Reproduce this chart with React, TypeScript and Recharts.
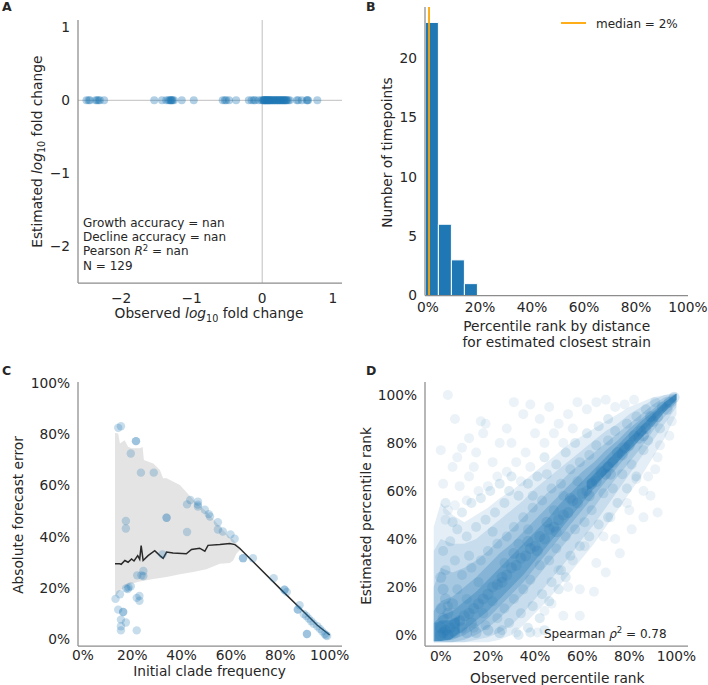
import React from 'react';
import {
  ScatterChart,
  Scatter,
  ComposedChart,
  Area,
  Line,
  XAxis,
  YAxis,
  ReferenceLine,
  ReferenceArea,
} from 'recharts';

const W = 708;
const H = 685;
const FONT = '"DejaVu Sans", sans-serif';
const BLUE = '#1f77b4';
const TEXT = '#262626';
const TICK = { fill: TEXT, fontSize: 13.75, fontFamily: FONT };
const AXIS_LINE = { stroke: '#8c8c8c', strokeWidth: 1.25 };
const YW = 60;
const XH = 40;

// ---------- Panel A ----------
const aObserved = [
  -2.49, -2.46, -2.44, -2.36, -2.34, -2.32, -2.3, -2.24,
  -1.53, -1.42, -1.36, -1.33, -1.31, -1.3, -1.29, -1.28, -1.27, -1.25, -1.14, -0.97,
  -0.56, -0.53, -0.51, -0.47, -0.37,
  -0.19, -0.15, -0.12, -0.1, -0.05, -0.01, 0.01, 0.02, 0.03, 0.04, 0.05, 0.06, 0.07,
  0.08, 0.09, 0.1, 0.11, 0.12, 0.13, 0.15, 0.16, 0.17, 0.18, 0.19, 0.21, 0.22, 0.23,
  0.24, 0.26, 0.27, 0.28, 0.29, 0.31, 0.32, 0.33, 0.35, 0.37, 0.39, 0.02, 0.04, 0.07,
  0.1, 0.14, 0.2, 0.25, 0.3, 0.34, 0.49, 0.51, 0.56, 0.63, 0.64, 0.65, 0.78,
];
const aEstimated = 0;
const aXTicks = [-2, -1, 0, 1];
const aYTicks = [1, 0, -1, -2];
const aStats = ['Growth accuracy = nan', 'Decline accuracy = nan', 'N = 129'];

// ---------- Panel B ----------
const bBinEdges = [-1, 4, 9, 14, 19];
const bCounts = [23, 6, 3, 1];
const bMedian = 0.4;
const bMedianLabel = 'median = 2%';
const bXTicks = [0, 20, 40, 60, 80, 100];
const bYTicks = [0, 5, 10, 15, 20];

// ---------- Panel C ----------
const cBandX = [13, 14.3, 15, 16.9, 18.3, 19.7, 23, 24.2, 24.7, 28.5, 31.2, 32.5, 33.9, 39.3, 44.7, 50, 55.5, 59.5, 60.9, 62.2, 64];
const cBandLow = [16.5, 18, 19, 20, 20.8, 21.6, 22.5, 22.7, 22.8, 23.5, 23.9, 24.1, 24.2, 25.3, 26.2, 27.3, 29.4, 29.7, 30.7, 33.3, 35.2];
const cBandHigh = [80.5, 80.3, 76.4, 77.7, 75.1, 74.5, 74.5, 75, 69.9, 68.6, 66, 62.8, 62.8, 60.2, 54.4, 49.8, 44, 39.8, 38.8, 37.3, 35.6];
const cLineX = [13, 14.9, 15.5, 17, 18.3, 19.7, 20.7, 22.2, 23, 23.6, 24.4, 26.4, 29.1, 31.2, 32.5, 33.9, 36.5, 41.9, 44, 47.3, 49.4, 50.7, 55.5, 59.5, 61.6, 63.6, 70, 80, 90, 95, 100];
const cLineY = [29.4, 29.4, 29.2, 30.7, 30, 31.3, 30.5, 32.6, 31.2, 36.5, 30.7, 32.6, 34.5, 32.6, 31.5, 34, 33.6, 33.3, 35, 35.5, 34.3, 36.6, 36.9, 37.3, 36.9, 35.4, 29.2, 19.6, 10.2, 5.4, 1.6];
const cPoints: [number, number][] = [
  [14.3, 82.5], [15.4, 83.1], [21.5, 77.3], [21.5, 77.3], [19.4, 72.5], [23.5, 65], [28.7, 65],
  [17.4, 46.1], [17.4, 43.2], [33.9, 47.4], [33.9, 47.4], [42.2, 52.6], [43.5, 54.3], [46.6, 53.7],
  [46.6, 52.5], [46.6, 51.8], [49.4, 50.5], [51, 48.8], [51.5, 47.9], [54.7, 45.6], [54.7, 42.8],
  [56.7, 42], [59.8, 40.9], [61.5, 39.2], [42.2, 41.8], [32.3, 33.1], [22, 24.9], [23.7, 24.9],
  [24.5, 26.6], [24.5, 24.6], [17.5, 19.8], [18.5, 20.2], [19.4, 20.6], [18.2, 19.5], [15, 17.5], [13.2, 15.7],
  [14.3, 11.5], [16.3, 10.6], [16.3, 10.6], [15.4, 7.6], [17.4, 6.5], [15.4, 5], [15.4, 3.4],
  [21.8, 3.4], [21.8, 16.1], [22.9, 16.8], [22.9, 15], [64.9, 31.6], [64.9, 31.6], [68.9, 31.6],
  [77.3, 23.8], [81.7, 19.3], [82.6, 18.4], [81.7, 19.3], [87.1, 11.5], [87.8, 13.2], [87.1, 11.5],
  [89.5, 9.8], [90.5, 9], [91.5, 8], [92.5, 7], [93.5, 6], [95, 5], [96, 4], [97, 3], [98, 2],
  [98.5, 1.5], [99, 1.2], [90.8, 2], [90.8, 2],
];
const pctTicks = [0, 20, 40, 60, 80, 100];

// ---------- Panel D ----------
// density envelopes of the point cloud: observed % (x) with estimated % low / high
const dEnvX = [-3, 0, 5, 10, 15, 20, 25, 30, 35, 40, 45, 50, 55, 60, 65, 70, 75, 80, 85, 90, 95, 100];
const dEnv1Low = [-3, -3, -3, -3, -3, -3, -2, 0, 4, 9, 14, 20, 26, 32, 38, 45, 52, 59, 66, 74, 82, 92];
const dEnv1High = [45, 55, 50, 47, 50, 53, 57, 60, 64, 68, 72, 76, 80, 83, 86, 89, 92, 95, 97, 99, 100, 101];
const dEnv2Low = [-3, -3, -3, -3, -2, -1, 1, 4, 9, 15, 21, 27, 33, 40, 46, 53, 60, 67, 74, 81, 88, 95];
const dEnv2High = [35, 40, 38, 38, 40, 44, 48, 52, 56, 61, 65, 69, 73, 77, 81, 85, 88, 92, 95, 98, 100, 100.5];
const dEnv3Low = [-3, -3, -3, -2, 0, 3, 7, 12, 17, 23, 29, 35, 41, 47, 53, 60, 66, 72, 78, 85, 91, 96];
const dEnv3High = [20, 28, 26, 28, 31, 35, 40, 44, 49, 54, 59, 63, 68, 72, 76, 80, 84, 88, 92, 96, 99, 100.5];
const dEnv4Low = [-2.5, -2.5, -2, 0, 3, 7, 12, 17, 22, 28, 34, 40, 46, 52, 58, 64, 70, 76, 82, 88, 93, 97];
const dEnv4High = [10, 14, 16, 20, 24, 29, 34, 38, 43, 48, 53, 58, 63, 68, 72, 77, 81, 86, 90, 94, 98, 100.5];
const dEnv5Low = [-2.5, -2.5, -1.5, 2, 6, 10, 15, 20, 25, 31, 37, 43, 49, 55, 61, 67, 72, 78, 84, 89, 94, 98];
const dEnv5High = [5, 8, 10, 14, 18, 23, 28, 33, 38, 43, 48, 54, 59, 64, 69, 74, 79, 84, 89, 93, 97, 100.5];
const dTopX = [62, 65, 70, 75, 80, 85, 90, 95, 100];
const dTopLow = [60, 62, 67, 72, 77, 82, 87, 93, 98];
const dTopHigh = [64, 67, 72, 77, 82, 87, 92, 97, 100.5];
const dCornerX = [-2.5, 0, 4, 8];
const dCornerLow = [-2.5, -2.5, -2, 1];
const dCornerHigh = [5, 6, 6, 8];
const dTexture: [number, number][] = [
  [99, 99], [97, 97], [96, 94], [94, 95], [92, 91], [90, 89], [89, 91], [87, 86], [85, 85], [84, 82],
  [82, 83], [80, 79], [78, 78], [77, 75], [75, 76], [73, 72], [71, 70], [70, 67], [68, 68], [66, 64],
  [64, 63], [62, 60], [60, 59], [58, 55], [56, 56], [54, 51], [52, 50], [50, 48], [48, 45], [46, 44],
  [44, 40], [42, 41], [40, 37], [38, 36], [36, 33], [34, 32], [32, 29], [30, 28], [28, 25], [26, 24],
  [24, 21], [22, 20], [20, 17], [18, 15], [16, 13], [14, 11], [12, 9], [10, 8], [8, 6], [6, 5],
  [4, 3], [2, 2], [1, 1], [0, 0], [0, 3], [3, 0], [1, 7], [6, 1], [0, 11], [11, 1], [2, 15], [15, 1],
  [1, 19], [20, 2], [0, 24], [25, 1], [3, 9], [9, 3], [5, 13], [13, 5], [45, 47], [37, 39], [55, 57],
  [31, 34], [26, 22], [41, 35], [49, 43], [63, 58], [72, 67], [86, 83],
];
const dMid: [number, number][] = [
  [93, 86], [88, 81], [86, 77], [81, 71], [77, 67], [73, 61], [69, 59], [64, 52], [61, 47], [57, 44],
  [53, 41], [49, 36], [46, 31], [42, 29], [38, 23], [35, 19], [31, 15], [27, 11], [24, 7], [19, 4],
  [14, 3], [91, 97], [87, 94], [83, 91], [79, 88], [74, 85], [71, 81], [66, 79], [63, 75], [59, 72],
  [55, 69], [51, 63], [47, 61], [43, 56], [39, 53], [35, 49], [31, 45], [28, 41], [24, 38], [20, 35],
  [17, 31], [13, 28], [9, 25], [6, 31], [2, 27], [1, 35], [4, 39], [7, 44], [11, 41], [15, 45],
  [19, 48], [23, 51], [27, 55], [29, 60], [33, 58], [37, 63], [41, 66], [45, 67], [49, 71], [53, 76],
  [57, 80], [62, 84], [67, 87], [71, 90], [59, 37], [63, 41], [67, 46], [71, 49], [75, 55], [79, 61],
  [83, 66], [55, 33], [51, 27], [47, 22], [43, 17], [39, 12], [34, 9], [29, 5], [37, 3], [42, 7],
  [46, 14], [50, 19], [53, 24], [26, 2], [33, 0], [38, 1], [44, 2], [5, 47], [2, 55], [9, 51],
  [13, 55], [17, 57], [21, 60], [25, 63], [30, 66], [44, 74], [39, 58], [22, 43], [12, 33], [16, 22],
  [27, 30], [33, 38], [37, 44], [48, 52], [52, 58], [58, 64], [3, 12], [7, 19], [11, 15], [18, 9],
  [22, 14],
];
const dSparse: [number, number][] = [
  [3, 100], [31, 97], [6, 90], [17, 89], [19, 88], [0, 77], [9, 78], [1, 63], [8, 62], [3, 52],
  [18, 84], [12, 82], [22, 72], [14, 70], [5, 70], [25, 80], [28, 86], [35, 92], [38, 96], [42, 90],
  [46, 95], [50, 88], [54, 92], [58, 97], [62, 94], [66, 97], [70, 98], [74, 95], [78, 96], [82, 98],
  [40, 84], [44, 80], [36, 76], [32, 72], [28, 68], [24, 66], [20, 62], [16, 60], [11, 56], [6, 54],
  [2, 48], [12, 66], [7, 74], [15, 76], [30, 80], [48, 84], [52, 80], [56, 86], [34, 64], [38, 70],
  [47, 13], [59, 19], [65, 18], [76, 34], [81, 44], [86, 49], [92, 51], [86, 60], [89, 58], [59, 8],
  [32, 1], [41, 1], [50, 27], [56, 31], [61, 37], [69, 41], [72, 49], [79, 55], [83, 65], [91, 69],
  [93, 79], [97, 83], [98, 89], [74, 40], [66, 30], [54, 20], [44, 10], [52, 8], [70, 26], [80, 52],
  [88, 66], [92, 74],
];
const dSpearman = '0.78';

// ---------- helpers ----------
const margins = (l: number, t: number, r: number, b: number) => ({
  left: l - YW,
  top: t,
  right: W - r,
  bottom: H - b - XH,
});
const pct = (v: number) => `${v}%`;
const minus = (v: number) => (v < 0 ? `\u2212${Math.abs(v)}` : `${v}`);
const dot = (r: number, op: number) => (p: any) =>
  <circle cx={p.cx} cy={p.cy} r={r} fill={BLUE} fillOpacity={op} stroke="none" />;
const toXY = (arr: [number, number][]) => arr.map(([x, y]) => ({ x, y }));
const toBand = (xs: number[], lo: number[], hi: number[]) => xs.map((x, i) => ({ x, lo: lo[i], hi: hi[i] }));
const rangeKey = (d: any) => [d.lo, d.hi];

const xAxisProps = {
  type: 'number' as const,
  dataKey: 'x',
  height: XH,
  tickLine: false,
  tickSize: 0,
  tickMargin: 5,
  axisLine: AXIS_LINE,
  tick: TICK,
  fontSize: 13.75,
  interval: 0 as const,
  allowDataOverflow: true,
};
const yAxisProps = {
  type: 'number' as const,
  dataKey: 'y',
  width: YW,
  tickLine: false,
  tickSize: 0,
  tickMargin: 8,
  axisLine: AXIS_LINE,
  tick: TICK,
  fontSize: 13.75,
  interval: 0 as const,
  allowDataOverflow: true,
};

const Pane = ({ children }: { children: React.ReactNode }) => (
  <div style={{ position: 'absolute', left: 0, top: 0 }}>{children}</div>
);

function PanelA() {
  const data = aObserved.map((x) => ({ x, y: aEstimated }));
  return (
    <Pane>
      <ScatterChart width={W} height={H} margin={margins(78, 20, 342, 283)}>
        <XAxis {...xAxisProps} domain={[-2.61, 1.13]} ticks={aXTicks} tickFormatter={minus} tickMargin={10} />
        <YAxis {...yAxisProps} domain={[-2.5, 1.1]} ticks={aYTicks} tickFormatter={minus} />
        <ReferenceLine x={0} stroke="#cccccc" strokeWidth={1.25} />
        <ReferenceLine y={0} stroke="#cccccc" strokeWidth={1.25} />
        <Scatter data={data} shape={dot(4, 0.35)} isAnimationActive={false} />
      </ScatterChart>
    </Pane>
  );
}

function PanelB() {
  const tops = bCounts.map((c, i) => ({ x: (bBinEdges[i] + bBinEdges[i + 1]) / 2, y: c }));
  return (
    <Pane>
      <ScatterChart width={W} height={H} margin={margins(425, 7, 688, 295.5)}>
        <XAxis {...xAxisProps} domain={[-1.15, 100]} ticks={bXTicks} tickFormatter={pct} tickMargin={7} />
        <YAxis {...yAxisProps} domain={[0, 24.3]} ticks={bYTicks} />
        {bCounts.map((c, i) => (
          <ReferenceArea
            key={i}
            x1={bBinEdges[i]}
            x2={bBinEdges[i + 1]}
            y1={0}
            y2={c}
            fill={BLUE}
            fillOpacity={1}
            stroke="#ffffff"
            strokeWidth={1}
            ifOverflow="visible"
          />
        ))}
        <ReferenceLine x={bMedian} stroke="#ffa500" strokeWidth={1.8} />
        <Scatter data={tops} shape={() => <g />} isAnimationActive={false} />
      </ScatterChart>
    </Pane>
  );
}

function PanelC() {
  const band = toBand(cBandX, cBandLow, cBandHigh);
  const line = cLineX.map((x, i) => ({ x, y: cLineY[i] }));
  return (
    <Pane>
      <ComposedChart width={W} height={H} margin={margins(78, 382, 342, 646)}>
        <XAxis {...xAxisProps} domain={[-2, 105]} ticks={pctTicks} tickFormatter={pct} tickMargin={4} />
        <YAxis {...yAxisProps} domain={[-2.7, 100.4]} ticks={pctTicks} tickFormatter={pct} />
        <Area
          data={band}
          dataKey={rangeKey}
          type="linear"
          stroke="none"
          fill="#e4e4e4"
          fillOpacity={1}
          isAnimationActive={false}
        />
        <Scatter data={toXY(cPoints)} dataKey="y" shape={dot(4.2, 0.25)} isAnimationActive={false} />
        <Line
          data={line}
          dataKey="y"
          type="linear"
          stroke="#2a2a2a"
          strokeWidth={1.5}
          dot={false}
          isAnimationActive={false}
        />
      </ComposedChart>
    </Pane>
  );
}

const envelopeLayers: { lo: number[]; hi: number[]; op: number }[] = [
  { lo: dEnv1Low, hi: dEnv1High, op: 0.12 },
  { lo: dEnv2Low, hi: dEnv2High, op: 0.15 },
  { lo: dEnv3Low, hi: dEnv3High, op: 0.19 },
  { lo: dEnv4Low, hi: dEnv4High, op: 0.24 },
  { lo: dEnv5Low, hi: dEnv5High, op: 0.3 },
];

function PanelD() {
  return (
    <Pane>
      <ComposedChart width={W} height={H} margin={margins(425, 382, 688, 646)}>
        <XAxis {...xAxisProps} domain={[-6.7, 104.9]} ticks={pctTicks} tickFormatter={pct} />
        <YAxis {...yAxisProps} domain={[-4.6, 105.4]} ticks={pctTicks} tickFormatter={pct} />
        {envelopeLayers.map((l, i) => (
          <Area key={i} data={toBand(dEnvX, l.lo, l.hi)} dataKey={rangeKey} type="linear"
            stroke="none" fill={BLUE} fillOpacity={l.op} isAnimationActive={false} />
        ))}
        <Area data={toBand(dTopX, dTopLow, dTopHigh)} dataKey={rangeKey} type="linear"
          stroke="none" fill={BLUE} fillOpacity={0.45} isAnimationActive={false} />
        <Area data={toBand(dCornerX, dCornerLow, dCornerHigh)} dataKey={rangeKey} type="linear"
          stroke="none" fill={BLUE} fillOpacity={0.4} isAnimationActive={false} />
        <Scatter data={toXY(dSparse)} dataKey="y" shape={dot(5, 0.09)} isAnimationActive={false} />
        <Scatter data={toXY(dMid)} dataKey="y" shape={dot(5, 0.14)} isAnimationActive={false} />
        <Scatter data={toXY(dTexture)} dataKey="y" shape={dot(5.5, 0.18)} isAnimationActive={false} />
      </ComposedChart>
    </Pane>
  );
}

function Overlay() {
  const t = { fontFamily: FONT, fill: TEXT };
  return (
    <svg width={W} height={H} style={{ position: 'absolute', left: 0, top: 0, pointerEvents: 'none' }}>
      {/* panel letters */}
      <text x={2} y={10.5} fontSize={12.5} fontWeight="bold" {...t}>A</text>
      <text x={366} y={10.5} fontSize={12.5} fontWeight="bold" {...t}>B</text>
      <text x={2} y={375} fontSize={12.5} fontWeight="bold" {...t}>C</text>
      <text x={366} y={374.5} fontSize={12.5} fontWeight="bold" {...t}>D</text>

      {/* Panel A */}
      <text x={83} y={226.7} fontSize={12} {...t}>{aStats[0]}</text>
      <text x={83} y={240.9} fontSize={12} {...t}>{aStats[1]}</text>
      <text x={83} y={255.3} fontSize={12} {...t}>
        Pearson <tspan fontStyle="italic">R</tspan>
        <tspan dy={-4.5} fontSize={8.5}>2</tspan>
        <tspan dy={4.5}> = nan</tspan>
      </text>
      <text x={83} y={269.5} fontSize={12} {...t}>{aStats[2]}</text>
      <text x={209} y={318.3} fontSize={13.75} textAnchor="middle" {...t}>
        Observed <tspan fontStyle="italic">log</tspan>
        <tspan dy={3.5} fontSize={9.6}>10</tspan>
        <tspan dy={-3.5}> fold change</tspan>
      </text>
      <text x={41.7} y={151.7} fontSize={13.75} textAnchor="middle" transform="rotate(-90 41.7 151.7)" {...t}>
        Estimated <tspan fontStyle="italic">log</tspan>
        <tspan dy={3.5} fontSize={9.6}>10</tspan>
        <tspan dy={-3.5}> fold change</tspan>
      </text>

      {/* Panel B */}
      <line x1={561} y1={23} x2={586} y2={23} stroke="#ffa500" strokeWidth={1.8} />
      <text x={596} y={28} fontSize={12} {...t}>{bMedianLabel}</text>
      <text x={392.3} y={152.5} fontSize={13.75} textAnchor="middle" transform="rotate(-90 392.3 152.5)" {...t}>
        Number of timepoints
      </text>
      <text x={556.7} y={330.5} fontSize={13.75} textAnchor="middle" {...t}>Percentile rank by distance</text>
      <text x={556.7} y={347} fontSize={13.75} textAnchor="middle" {...t}>for estimated closest strain</text>

      {/* Panel C */}
      <text x={23.3} y={515} fontSize={13.75} textAnchor="middle" transform="rotate(-90 23.3 515)" {...t}>
        Absolute forecast error
      </text>
      <text x={209.5} y={676} fontSize={13.75} textAnchor="middle" {...t}>Initial clade frequency</text>

      {/* Panel D */}
      <text x={544} y={637.5} fontSize={12} {...t}>
        Spearman <tspan fontStyle="italic">ρ</tspan>
        <tspan dy={-5} fontSize={8.5}>2</tspan>
        <tspan dy={5}> = {dSpearman}</tspan>
      </text>
      <text x={370.7} y={516} fontSize={13.75} textAnchor="middle" transform="rotate(-90 370.7 516)" {...t}>
        Estimated percentile rank
      </text>
      <text x={557.3} y={682.5} fontSize={13.75} textAnchor="middle" {...t}>Observed percentile rank</text>
    </svg>
  );
}

export default function App() {
  return (
    <div style={{ position: 'absolute', left: 0, top: 0, width: W, height: H, background: '#ffffff', fontFamily: FONT }}>
      <PanelA />
      <PanelB />
      <PanelC />
      <PanelD />
      <Overlay />
    </div>
  );
}
